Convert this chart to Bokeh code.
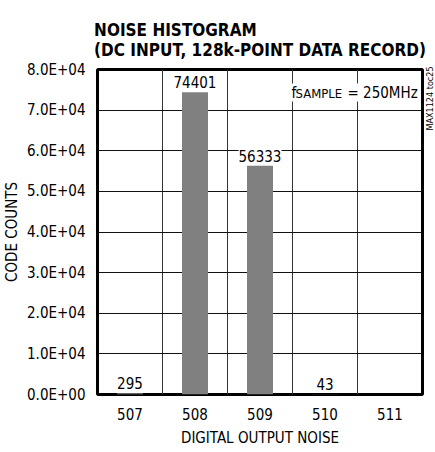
import math
from bokeh.plotting import figure
from bokeh.models import Range1d, FixedTicker, Label, LabelSet, ColumnDataSource
from bokeh.core.properties import value
from bokeh.embed import file_html
from bokeh.resources import INLINE

# ---- data ----
codes = [507, 508, 509, 510, 511]
counts = [295, 74401, 56333, 43, 0]
label_codes = [507, 508, 509, 510]
label_counts = [295, 74401, 56333, 43]
y_ticks = [0, 10000, 20000, 30000, 40000, 50000, 60000, 70000, 80000]
y_tick_labels = ["0.0E+00", "1.0E+04", "2.0E+04", "3.0E+04", "4.0E+04",
                 "5.0E+04", "6.0E+04", "7.0E+04", "8.0E+04"]
x_grid_bounds = [507.5, 508.5, 509.5, 510.5]

FONT = "DejaVu Sans Condensed"

p = figure(width=435, height=450, output_backend="svg", toolbar_location=None,
           x_range=Range1d(506.5, 511.5), y_range=Range1d(0, 80000),
           min_border_left=97, min_border_right=13, min_border_top=69,
           min_border_bottom=56)

p.title.text = "NOISE HISTOGRAM\n(DC INPUT, 128k-POINT DATA RECORD)"
p.title.align = "center"
p.title.text_font = FONT
p.title.text_font_size = "17px"
p.title.text_font_style = "bold"
p.title.text_color = "black"
p.title.standoff = 20

p.outline_line_color = "black"
p.outline_line_width = 3
p.outline_line_alpha = 1

# axes
for ax in (p.xaxis, p.yaxis):
    ax.axis_line_color = None
    ax.major_tick_line_color = None
    ax.minor_tick_line_color = None
    ax.major_tick_out = 0
    ax.major_tick_in = 0
    ax.minor_tick_out = 0
    ax.minor_tick_in = 0
    ax.major_label_text_font = FONT
    ax.major_label_text_font_size = "15px"
    ax.major_label_text_color = "black"
    ax.axis_label_text_font = FONT
    ax.axis_label_text_font_size = "15px"
    ax.axis_label_text_font_style = "normal"
    ax.axis_label_text_color = "black"

p.xaxis.ticker = FixedTicker(ticks=codes)
p.xaxis.major_label_standoff = 13
p.xaxis.axis_label = "DIGITAL OUTPUT NOISE"
p.xaxis.axis_label_standoff = 6

p.yaxis.ticker = FixedTicker(ticks=y_ticks)
p.yaxis.major_label_overrides = {t: l for t, l in zip(y_ticks, y_tick_labels)}
p.yaxis.major_label_standoff = 12
p.yaxis.axis_label = "CODE COUNTS"
p.yaxis.axis_label_standoff = 3

# grid
p.xgrid.ticker = FixedTicker(ticks=x_grid_bounds)
p.ygrid.ticker = FixedTicker(ticks=y_ticks)
p.xgrid.grid_line_color = "#333333"
p.ygrid.grid_line_color = "#111111"
p.xgrid.grid_line_width = 1
p.ygrid.grid_line_width = 1
p.xgrid.grid_line_alpha = 1
p.ygrid.grid_line_alpha = 1

# bars
p.vbar(x=codes, top=counts, bottom=0, width=0.4, fill_color="#808080",
       line_color=None)

src = ColumnDataSource(dict(x=label_codes, y=label_counts,
                            t=[str(c) for c in label_counts]))
p.add_layout(LabelSet(x="x", y="y", text="t", source=src, text_align="center",
                      text_baseline="alphabetic", y_offset=4,
                      background_fill_color="white",
                      text_font=value(FONT), text_font_size=value("15px"),
                      text_color="black"))

# f_SAMPLE annotation
p.add_layout(Label(x=250, y=302, x_units="screen", y_units="screen",
                   text="= 250MHz", text_align="left", text_baseline="alphabetic",
                   text_font=FONT, text_font_size="15px", text_color="black",
                   background_fill_color="white"))
p.add_layout(Label(x=194, y=302, x_units="screen", y_units="screen",
                   text="f", text_align="left", text_baseline="alphabetic",
                   text_font=FONT, text_font_size="15px", text_color="black",
                   background_fill_color="white"))
p.add_layout(Label(x=198, y=301, x_units="screen", y_units="screen",
                   text="SAMPLE", text_align="left", text_baseline="alphabetic",
                   text_font=FONT, text_font_size="13px", text_color="black"))

p.add_layout(Label(x=7, y=264, x_units="screen", y_units="screen",
                   text="MAX1124 toc25", angle=math.pi / 2, text_align="left",
                   text_baseline="middle", text_font=FONT,
                   text_font_size="9px", text_color="black"), "right")

open("out.html", "w").write(file_html(p, INLINE))
